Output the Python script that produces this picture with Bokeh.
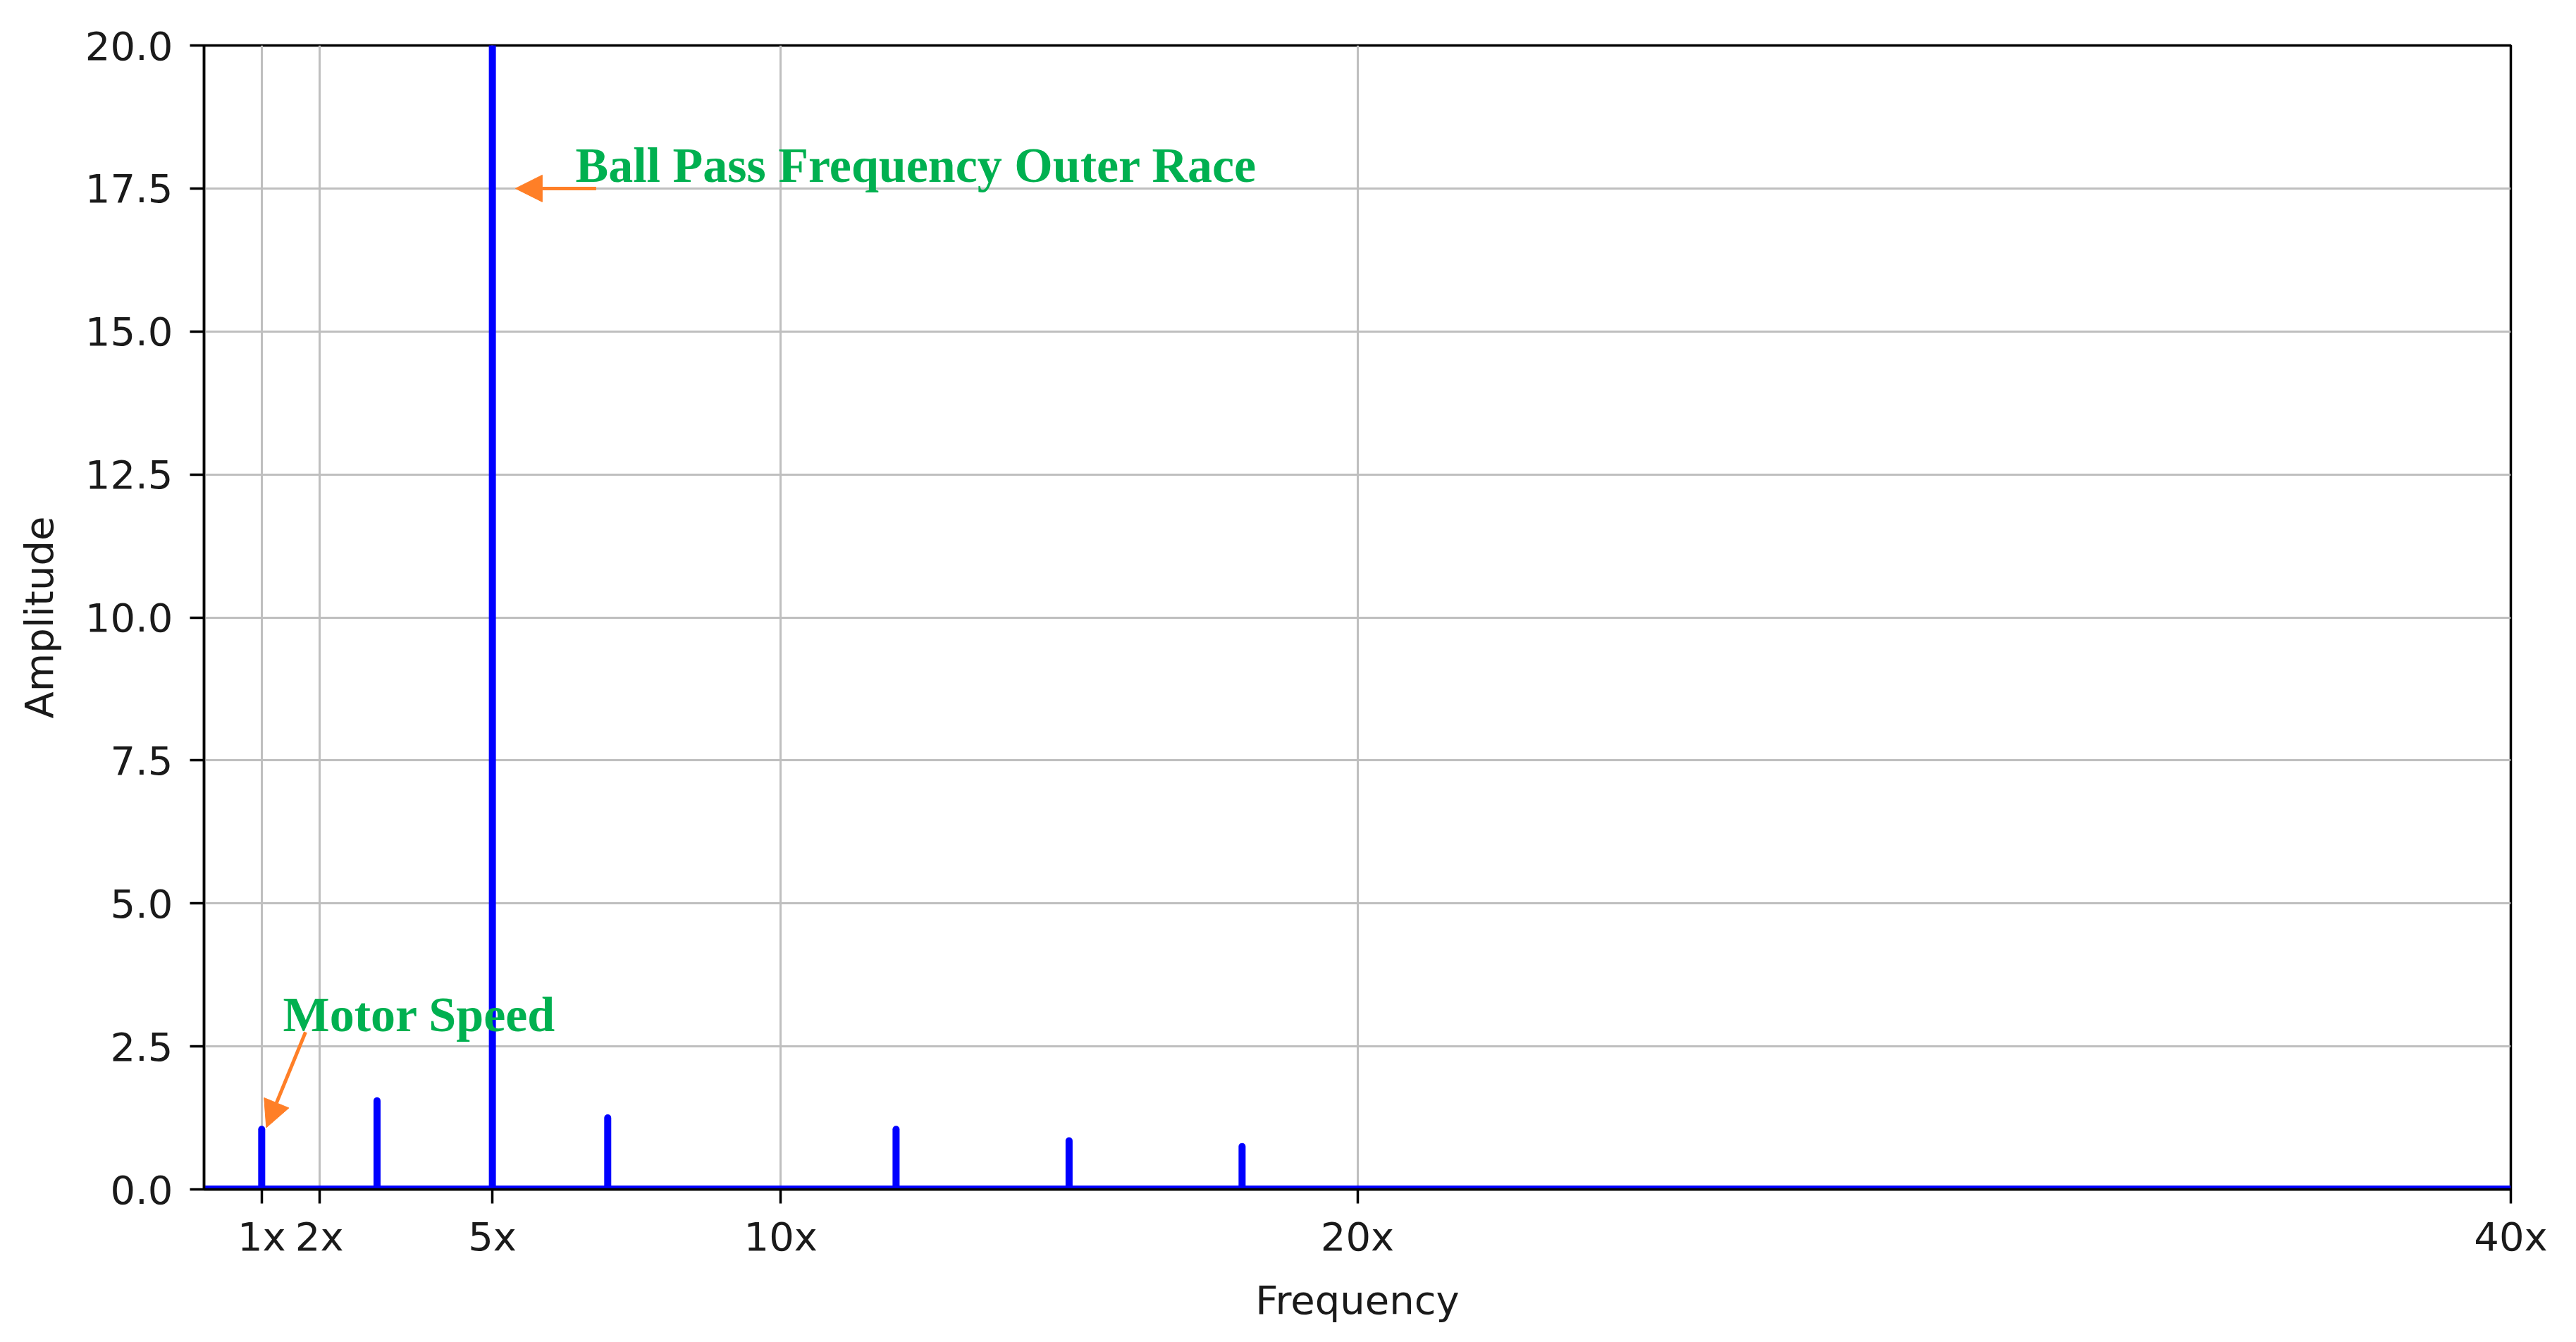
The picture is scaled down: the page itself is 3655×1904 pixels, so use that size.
from bokeh.plotting import figure
from bokeh.models import Range1d, FixedTicker, Span, Arrow, NormalHead, Label, ColumnDataSource
from bokeh.embed import file_html
from bokeh.resources import INLINE

# ---- data ----
peak_freqs = [1, 3, 5, 7, 12, 15, 18]
peak_amps = [1.05, 1.55, 26.0, 1.25, 1.05, 0.85, 0.75]
x_ticks = [1, 2, 5, 10, 20, 40]
x_tick_labels = ["1x", "2x", "5x", "10x", "20x", "40x"]
y_ticks = [0, 2.5, 5, 7.5, 10, 12.5, 15, 17.5, 20]
y_tick_labels = ["0.0", "2.5", "5.0", "7.5", "10.0", "12.5", "15.0", "17.5", "20.0"]
freq_limits = [0, 40]
amp_limits = [0, 20]

# annotations (text, text anchor, arrow tail, arrow head)
bpfo_text = "Ball Pass Frequency Outer Race"
bpfo_text_xy = (6.44, 17.90)
bpfo_arrow = (6.8, 17.5, 5.4, 17.5)
motor_text = "Motor Speed"
motor_text_xy = (1.37, 3.05)
motor_arrow = (1.76, 2.75, 1.08, 1.08)

GREEN = "#00B050"
ORANGE = "#FF7F27"
BLUE = "#0000FF"

p = figure(frame_width=3273, frame_height=1623,
           x_range=Range1d(*freq_limits), y_range=Range1d(*amp_limits),
           output_backend="svg", toolbar_location=None,
           min_border_left=289, min_border_top=64, min_border_right=77, min_border_bottom=200,
           background_fill_color="white", border_fill_color="white")

p.outline_line_color = "black"
p.outline_line_width = 3.5
p.outline_line_alpha = 1.0

# grid
p.xgrid.ticker = FixedTicker(ticks=x_ticks)
p.ygrid.ticker = FixedTicker(ticks=y_ticks)
for g in (p.xgrid, p.ygrid):
    g.grid_line_color = "#bfbfbf"
    g.grid_line_width = 3

# axes
p.xaxis.ticker = FixedTicker(ticks=x_ticks)
p.xaxis.major_label_overrides = {t: l for t, l in zip(x_ticks, x_tick_labels)}
p.yaxis.ticker = FixedTicker(ticks=y_ticks)
p.yaxis.major_label_overrides = {t: l for t, l in zip(y_ticks, y_tick_labels)}
p.xaxis.axis_label = "Frequency"
p.yaxis.axis_label = "Amplitude"
for ax in (p.xaxis, p.yaxis):
    ax.axis_line_color = "black"
    ax.axis_line_width = 3.5
    ax.major_tick_in = 0
    ax.major_tick_out = 20
    ax.major_tick_line_width = 3.5
    ax.major_tick_line_color = "black"
    ax.minor_tick_line_color = None
    ax.major_label_text_font = "DejaVu Sans"
    ax.major_label_text_font_size = "56px"
    ax.major_label_text_color = "#1a1a1a"
    ax.axis_label_text_font = "DejaVu Sans"
    ax.axis_label_text_font_size = "56px"
    ax.axis_label_text_font_style = "normal"
    ax.axis_label_text_color = "#1a1a1a"
p.xaxis.major_label_standoff = 14
p.yaxis.major_label_standoff = 24
p.xaxis.axis_label_standoff = 22
p.yaxis.axis_label_standoff = 30

# spectrum: baseline and peaks
base = Span(location=amp_limits[0], dimension="width", line_color=BLUE, line_width=11, level="glyph")
p.add_layout(base)
src = ColumnDataSource(dict(x=peak_freqs, y0=[0] * len(peak_freqs), y1=peak_amps))
p.segment(x0="x", y0="y0", x1="x", y1="y1", source=src,
          line_color=BLUE, line_width=10, line_cap="round")

# annotations
for (txt, (tx, ty), (ax0, ay0, ax1, ay1)) in [
        (bpfo_text, bpfo_text_xy, bpfo_arrow),
        (motor_text, motor_text_xy, motor_arrow)]:
    p.add_layout(Arrow(x_start=ax0, y_start=ay0, x_end=ax1, y_end=ay1,
                       line_color=ORANGE, line_width=5,
                       end=NormalHead(size=38, fill_color=ORANGE, line_color=ORANGE, line_width=1)))
    p.add_layout(Label(x=tx, y=ty, text=txt, text_font="Liberation Serif",
                       text_font_style="bold", text_font_size="70px",
                       text_color=GREEN, text_baseline="alphabetic", text_align="left"))

open("out.html", "w").write(file_html(p, INLINE))
